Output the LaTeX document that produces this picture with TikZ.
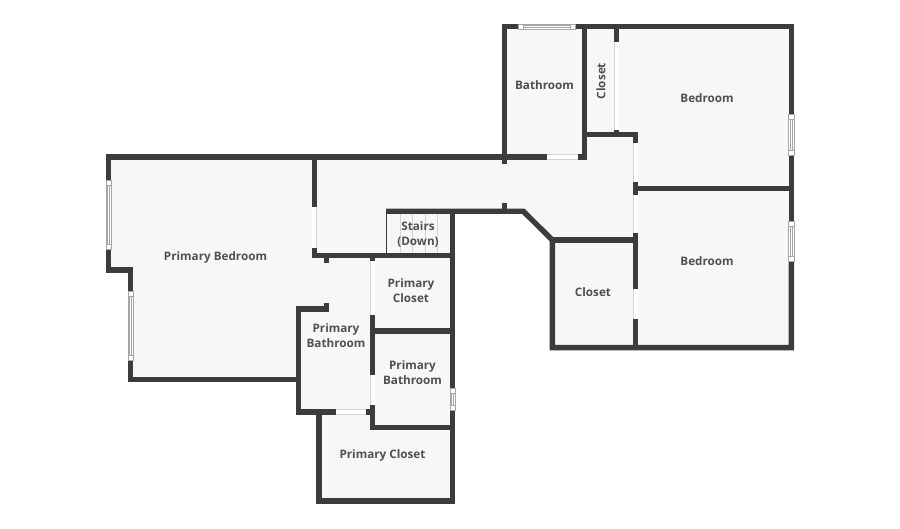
\documentclass[tikz,border=0pt]{standalone}
\usepackage{fontspec}
\setmainfont{Open Sans}
\usepackage{tikz}
\definecolor{wallcol}{HTML}{3C3C3C}
\definecolor{floorcol}{HTML}{F7F7F7}
\definecolor{textcol}{HTML}{505050}
\definecolor{trimcol}{HTML}{D4D4D4}
\tikzset{
  wall/.style={draw=wallcol, line width=5.4pt, line cap=butt, miter limit=10},
  door/.style={draw=trimcol, line width=0.6pt, double=white, double distance=4.2pt},
  sash/.style={draw=black!35, line width=0.5pt, fill=white},
  tread/.style={draw=trimcol, line width=0.7pt},
  room/.style={font=\bfseries\fontsize{11.7pt}{15pt}\selectfont, text=textcol, align=center, inner sep=0pt}
}
\newcommand{\windowv}[3]{
  \draw[sash] (#1-2.7, #2) rectangle (#1+2.7, #3);
  \draw[sash] (#1-2.7, #2+5) -- (#1+2.7, #2+5);
  \draw[sash] (#1-2.7, #3-5) -- (#1+2.7, #3-5);
  \draw[sash] (#1-1, #2+5) rectangle (#1+1, #3-5);
}
\newcommand{\windowh}[3]{
  \draw[sash] (#2, #1-2.7) rectangle (#3, #1+2.7);
  \draw[sash] (#2+5, #1-2.7) -- (#2+5, #1+2.7);
  \draw[sash] (#3-5, #1-2.7) -- (#3-5, #1+2.7);
  \draw[sash] (#2+5, #1-1) rectangle (#3-5, #1+1);
}
\begin{document}
\begin{tikzpicture}[x=1pt, y=-1pt]
\useasboundingbox (0, 0) rectangle (900, 529);
% floor
\fill[floorcol] (108.7, 157) -- (504.3, 157) -- (504.3, 26.7) -- (791.3, 26.7) -- (791.3, 347.7)
  -- (552.3, 347.7) -- (552.3, 240) -- (523.3, 211.3) -- (452.7, 211.3) -- (452.7, 501) -- (319, 501)
  -- (319, 412) -- (298.7, 412) -- (298.7, 379.7) -- (130.7, 379.7) -- (130.7, 270) -- (108.7, 270) -- cycle;
% stairs
\foreach \x in {400, 412.3, 425, 437.7} {
  \draw[tread] (\x, 214) -- (\x, 253);
}
\draw[wallcol, line width=0.8pt] (386, 211.3) -- (386, 255.7);
% openings
\draw[door] (616.7, 42.3) -- (616.7, 130);
\draw[door] (635.7, 143.3) -- (635.7, 181.7);
\draw[door] (635.7, 195) -- (635.7, 232.7);
\draw[door] (635.7, 289.3) -- (635.7, 318.7);
\draw[door] (547.3, 157) -- (578.3, 157);
\draw[door] (314.3, 207.3) -- (314.3, 247.7);
\draw[door] (372.7, 260.7) -- (372.7, 315);
\draw[door] (372.7, 375) -- (372.7, 405);
\draw[door] (335.7, 412) -- (365.7, 412);
% walls
\draw[wall] (108.7, 180) -- (108.7, 157) -- (547.3, 157);
\draw[wall] (108.7, 249.3) -- (108.7, 270) -- (130.7, 270) -- (130.7, 291);
\draw[wall] (130.7, 360) -- (130.7, 379.7) -- (298.7, 379.7);
\draw[wall] (326.7, 303) -- (326.7, 309) -- (298.7, 309) -- (298.7, 412) -- (335.7, 412);
\draw[wall] (365.7, 412) -- (372.7, 412);
\draw[wall] (372.7, 405) -- (372.7, 427.7) -- (452.7, 427.7);
\draw[wall] (319, 412) -- (319, 501) -- (452.7, 501) -- (452.7, 410);
\draw[wall] (452.7, 388.3) -- (452.7, 211.3);
\draw[wall] (386, 211.3) -- (523.3, 211.3) -- (552.3, 240) -- (552.3, 347.7) -- (791.3, 347.7) -- (791.3, 261.7);
\draw[wall] (314.3, 157) -- (314.3, 207.3);
\draw[wall] (314.3, 247.7) -- (314.3, 255.7) -- (452.7, 255.7);
\draw[wall] (326.7, 255.7) -- (326.7, 263.3);
\draw[wall] (372.7, 255.7) -- (372.7, 260.7);
\draw[wall] (372.7, 315) -- (372.7, 375);
\draw[wall] (372.7, 331) -- (452.7, 331);
\draw[wall] (504.3, 164.3) -- (504.3, 26.7) -- (518.3, 26.7);
\draw[wall] (575.7, 26.7) -- (791.3, 26.7) -- (791.3, 114);
\draw[wall] (791.3, 155.7) -- (791.3, 221);
\draw[wall] (584.7, 26.7) -- (584.7, 157) -- (578.3, 157);
\draw[wall] (616.7, 26.7) -- (616.7, 42.3);
\draw[wall] (616.7, 130) -- (616.7, 134.3);
\draw[wall] (584.7, 134.3) -- (635.7, 134.3) -- (635.7, 143.3);
\draw[wall] (635.7, 181.7) -- (635.7, 195);
\draw[wall] (635.7, 188.3) -- (791.3, 188.3);
\draw[wall] (635.7, 232.7) -- (635.7, 289.3);
\draw[wall] (635.7, 240) -- (552.3, 240);
\draw[wall] (635.7, 318.7) -- (635.7, 347.7);
\draw[wall] (504.3, 203.3) -- (504.3, 211.3);
% windows
\windowh{26.7}{518.3}{575.7}
\windowv{791.3}{114}{155.7}
\windowv{791.3}{221}{261.7}
\windowv{108.7}{180}{249.3}
\windowv{130.7}{291}{360}
\windowv{452.7}{388.3}{410}
% labels
\node[room] (bathupper) at (544.5, 85) {Bathroom};
\node[room, rotate=90] (closetupper) at (601, 81) {Closet};
\node[room] (bedupper) at (707, 98.5) {Bedroom};
\node[room] (bedlower) at (707, 261.5) {Bedroom};
\node[room] (closetlower) at (593, 292) {Closet};
\node[room] (primarybed) at (215.5, 257.5) {Primary Bedroom};
\node[room] (stairs) at (418, 234) {Stairs\\(Down)};
\node[room] (primarycloseta) at (411, 291) {Primary\\Closet};
\node[room] (primarybatha) at (336, 336) {Primary\\Bathroom};
\node[room] (primarybathb) at (412.5, 373) {Primary\\Bathroom};
\node[room] (primaryclosetb) at (382.5, 455.5) {Primary Closet};
\end{tikzpicture}
\end{document}
